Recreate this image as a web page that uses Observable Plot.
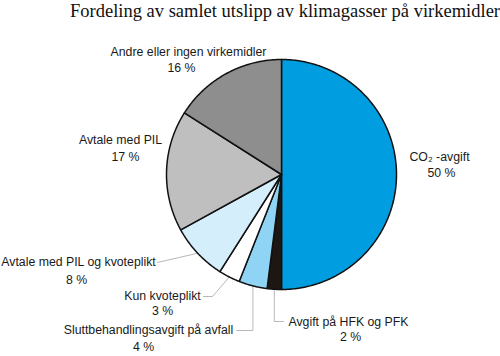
<!DOCTYPE html>
<html>
<head>
<meta charset="utf-8">
<script src="https://cdn.jsdelivr.net/npm/d3@7"></script>
<script src="https://cdn.jsdelivr.net/npm/@observablehq/plot@0.6"></script>
<style>
  html, body { margin: 0; padding: 0; background: #fff; }
  #chart svg { display: block; }
</style>
</head>
<body>
<div id="chart"></div>
<script>
// ---- data ----
const title = "Fordeling av samlet utslipp av klimagasser på virkemidler";
const categories = [
  "CO₂ -avgift",
  "Avgift på HFK og PFK",
  "Sluttbehandlingsavgift på avfall",
  "Kun kvoteplikt",
  "Avtale med PIL og kvoteplikt",
  "Avtale med PIL",
  "Andre eller ingen virkemidler"
];
const shares = [50, 2, 4, 3, 8, 17, 16];
const percentLabels = ["50 %", "2 %", "4 %", "3 %", "8 %", "17 %", "16 %"];
const colors = ["#009ee0", "#1c1712", "#8fd4f4", "#ffffff", "#d4effb", "#bfbfbf", "#8e8e8e"];

// ---- layout (pixels) ----
const CX = 281, CY = 174, R = 115, W = 500, H = 356;
const nameAt = [[439,157],[348,322],[148,330],[162,296],[78,262],[120,140],[188,52]];
const pctAt  = [[441,173],[350,337],[143,347],[162,311],[76,280],[125,157],[181,68]];
const leaders = [
  {i: 4, pts: [[157,262]]},
  {i: 3, pts: [[203,296],[212,296]]},
  {i: 2, pts: [[236,330],["arc",330]]},
  {i: 1, pts: [[283,321],["arc",321]]}
];

const ux = px => (px - CX) / R;
const uy = py => (CY - py) / R;

const data = categories.map((c, i) => ({key: c, v: shares[i], color: colors[i], pct: percentLabels[i], i}));
const arcs = d3.pie().sort(null).value(d => d.v)(data);

const slicePts = [];
arcs.forEach(a => {
  const k = a.data.key;
  slicePts.push({key: k, color: a.data.color, x: 0, y: 0});
  const n = Math.max(2, Math.ceil((a.endAngle - a.startAngle) / (Math.PI / 360)));
  for (let j = 0; j <= n; j++) {
    const t = a.startAngle + (a.endAngle - a.startAngle) * j / n;
    slicePts.push({key: k, color: a.data.color, x: Math.sin(t), y: Math.cos(t)});
  }
  slicePts.push({key: k, color: a.data.color, x: 0, y: 0});
});

const leaderPts = [];
leaders.forEach(l => {
  const a = arcs[l.i];
  const m = (a.startAngle + a.endAngle) / 2;
  const ex = Math.sin(m), ey = Math.cos(m);
  l.pts.forEach(p => {
    leaderPts.push({key: l.i, x: p[0] === "arc" ? ex : ux(p[0]), y: uy(p[1])});
  });
  leaderPts.push({key: l.i, x: ex, y: ey});
});

const labels = [];
data.forEach((d, i) => {
  labels.push({text: d.key, x: ux(nameAt[i][0]), y: uy(nameAt[i][1])});
  labels.push({text: d.pct, x: ux(pctAt[i][0]), y: uy(pctAt[i][1])});
});

const chart = Plot.plot({
  width: W,
  height: H,
  margin: 0,
  x: {domain: [ux(0), ux(W)], axis: null},
  y: {domain: [uy(H), uy(0)], axis: null},
  color: {type: "identity"},
  style: {fontFamily: "'Liberation Sans', Arial, sans-serif", background: "#fff"},
  marks: [
    Plot.line(leaderPts, {x: "x", y: "y", z: "key", stroke: "#b8b8b8", strokeWidth: 1}),
    Plot.line(slicePts, {x: "x", y: "y", z: "key", fill: "color", stroke: "#111", strokeWidth: 1.5, strokeLinejoin: "round"}),
    Plot.text(labels, {x: "x", y: "y", text: "text", fontSize: 12.3, fill: "#1a1a1a", lineAnchor: "middle"}),
    Plot.text([title], {frameAnchor: "top", dx: 34.5, dy: 3, lineAnchor: "top", text: d => d, fontSize: 18.5, fill: "#111", fontFamily: "'Liberation Serif', 'Times New Roman', serif"})
  ]
});
document.getElementById("chart").appendChild(chart);
</script>
</body>
</html>
